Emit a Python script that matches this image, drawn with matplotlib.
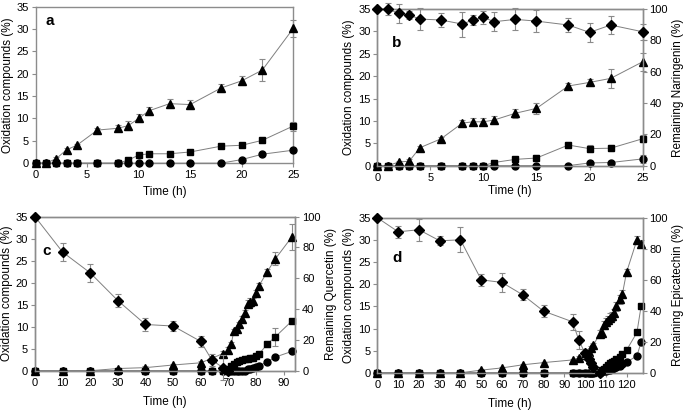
import numpy as np
import matplotlib
matplotlib.use("Agg")
import matplotlib.pyplot as plt

plt.rcParams["font.family"] = ["Liberation Sans", "DejaVu Sans"]

# ---- data ----
times_a = [0, 1, 2, 3, 4, 6, 8, 9, 10, 11, 13, 15, 18, 20, 22, 25]
tri_a = [0, 0, 1.0, 3.0, 4.0, 7.4, 7.8, 8.4, 10.0, 11.7, 13.3, 13.1, 16.8, 18.4, 20.8, 30.1]
tri_a_err = [0, 0, 0.3, 0.3, 0.3, 0.4, 0.7, 1.0, 0.9, 0.9, 1.0, 1.1, 0.9, 1.0, 2.5, 2.0]
sq_a = [0, 0, 0, 0, 0, 0, 0, 0.7, 1.8, 2.1, 2.1, 2.5, 3.8, 4.0, 5.1, 8.3]
sq_a_err = [0, 0, 0, 0, 0, 0, 0, 0.3, 0.5, 0.3, 0.2, 0.2, 0.2, 0.3, 0.6, 1.0]
circ_a = [0, 0, 0, 0, 0, 0, 0, 0, 0, 0, 0, 0, 0, 0.8, 2.0, 2.9]
circ_a_err = [0] * 13 + [0.2, 0.2, 0.3]

times_b = [0, 1, 2, 3, 4, 6, 8, 9, 10, 11, 13, 15, 18, 20, 22, 25]
diam_b = [100, 100, 97.2, 96.2, 93.6, 93.0, 90.4, 93.0, 94.7, 91.9, 93.4, 92.3, 89.8, 85.1, 89.8, 85.5]
diam_b_err = [0, 4, 6, 2.5, 7, 4.5, 8, 3, 4, 6, 7, 7, 4.5, 6, 6, 5]
tri_b = [0, 0, 0.8, 1.0, 4.0, 6.0, 9.5, 9.8, 9.8, 10.2, 11.7, 12.8, 17.8, 18.6, 19.5, 23.2]
tri_b_err = [0, 0, 0.3, 0.4, 0.3, 0.3, 0.7, 0.8, 0.8, 0.8, 1.0, 1.2, 0.6, 0.7, 2.2, 2.0]
sq_b = [0, 0, 0, 0, 0, 0, 0, 0, 0, 0.7, 1.4, 1.7, 4.6, 3.8, 3.9, 6.0]
sq_b_err = [0, 0, 0.3, 0.3, 0, 0, 0, 0, 0, 0.6, 0.6, 0.7, 0.7, 0.7, 0.7, 0.8]
circ_b = [0, 0, 0, 0, 0, 0, 0, 0, 0, 0, 0, 0, 0, 0.6, 0.7, 1.5]
circ_b_err = [0] * 13 + [0.2, 0.2, 0.9]

times_c = [0, 10, 20, 30, 40, 50, 60, 64, 68, 70, 71, 72, 73, 74, 75, 76, 77, 78, 79, 80, 81, 84, 87, 93]
diam_c = [100, 77, 63.5, 45.5, 30, 29, 19, 7, 2, 0] + [np.nan] * 14
diam_c_err = [0, 6, 6, 4, 4, 3, 3.5, 4, 8, 0] + [0] * 14
tri_c = [0, 0, 0, 0.5, 0.7, 1.3, 1.8, 2.8, 3.9, 4.8, 6.0, 9.0, 9.4, 10.5, 11.8, 13.2, 15.2, 15.5,
         15.8, 17.6, 19.2, 22.4, 25.4, 30.4]
tri_c_err = [0, 0, 0, 0.2, 0.3, 0.3, 0.3, 0.5, 0.5, 0.5, 0.5, 0.5, 0.5, 0.6, 0.6, 0.6, 0.8, 1.0,
             0.8, 0.8, 0.8, 0.8, 1.5, 3.0]
sq_c = [0, 0, 0, 0, 0, 0, 0, 0, 0, 0.5, 1.0, 1.5, 1.9, 2.2, 2.4, 2.6, 2.7, 2.9, 3.0, 3.3, 3.7,
        6.0, 7.7, 11.3]
sq_c_err = [0] * 9 + [0.2] * 12 + [0.7, 2.0, 0.5]
circ_c = [0] * 16 + [0.3, 0.5, 0.7, 0.9, 1.1, 2.0, 3.1, 4.4]

times_d = [0, 10, 20, 30, 40, 50, 60, 70, 80, 94, 97, 100, 102, 103, 104, 107, 108, 109, 110,
           111, 112, 113, 114, 115, 117, 118, 120, 125, 127]
diam_d = [100, 91, 92.3, 85.2, 85.8, 60, 58.3, 50.3, 39.8, 32.9, 21.1, 12.5, 9, 6, 4, 0] + [np.nan] * 13
diam_d_err = [0, 4, 7, 3, 8, 4, 6, 3.5, 4, 5, 6, 3, 2, 2, 2, 0] + [0] * 13
tri_d = [0, 0, 0, 0, 0, 0.6, 1.1, 1.8, 2.3, 2.9, 3.4, 4.0, 4.8, 5.5, 6.2, 8.8, 9.0, 10.8, 11.5,
         12.0, 12.4, 12.8, 13.5, 15.0, 16.6, 17.8, 22.7, 30.0, 29.2]
tri_d_err = [0, 0, 0, 0, 0, 0.2, 0.2, 0.2, 0.2, 0.3, 0.3, 0.4, 0.5, 0.5, 0.5, 0.8, 0.8, 0.8, 0.9,
             0.9, 1.0, 1.0, 1.0, 1.0, 1.0, 1.0, 0.8, 0.9, 0.8]
sq_d = [0] * 15 + [0.2, 0.6, 0.9, 1.3, 1.7, 2.1, 2.4, 2.7, 3.1, 3.6, 4.2, 5.1, 9.1, 15.0]
circ_d = [0] * 16 + [0.3, 0.4, 0.5, 0.6, 0.7, 0.9, 1.1, 1.3, 1.6, 1.9, 2.4, 3.8, 6.9]

LINE = "#7f7f7f"
SPINE = "#8c8c8c"


def series(ax, x, y, err, marker, ms):
    if err is not None:
        ax.errorbar(x, y, yerr=err, fmt="none", ecolor="#8a8a8a", elinewidth=0.8,
                    capsize=2.5, capthick=0.8, clip_on=False, zorder=2)
    ax.plot(x, y, "-", color=LINE, lw=0.7, zorder=3, clip_on=False)
    ax.plot(x, y, marker, color="black", ms=ms, mec="black", ls="none", zorder=4, clip_on=False)


def style(ax):
    for s in ax.spines.values():
        s.set_color(SPINE)
        s.set_linewidth(1.0)
    ax.tick_params(direction="out", length=3, width=0.8, color=SPINE, labelsize=8, pad=2)


def panel(rect, label, lab_xy, times, tri, tri_err, sq, sq_err, circ, circ_err,
          xmax, xticks, xpad, diam=None, diam_err=None, rlabel=None):
    ax = fig.add_axes(rect)
    ax.set_xlim(0, xmax)
    ax.set_ylim(0, 35)
    ax.set_yticks(np.arange(0, 36, 5))
    ax.set_xticks(xticks)
    series(ax, times, circ, circ_err, "o", 5)
    series(ax, times, sq, sq_err, "s", 4.8)
    series(ax, times, tri, tri_err, "^", 5.8)
    ax.set_xlabel("Time (h)", fontsize=8.5, labelpad=xpad)
    ax.set_ylabel("Oxidation compounds (%)", fontsize=8.5, labelpad=2)
    style(ax)
    ax.text(lab_xy[0], lab_xy[1], label, transform=ax.transAxes, fontsize=11,
            fontweight="bold", va="center", ha="left")
    if diam is not None:
        ax2 = ax.twinx()
        ax2.set_ylim(0, 100)
        ax2.set_yticks(np.arange(0, 101, 20))
        series(ax2, times, diam, diam_err, "D", 4.8)
        ax2.set_ylabel(rlabel, fontsize=8.5, labelpad=3)
        style(ax2)
    return ax


fig = plt.figure(figsize=(6.85, 4.11), dpi=100)

panel([0.052, 0.603, 0.376, 0.381], "a", (0.04, 0.91), times_a, tri_a, tri_a_err, sq_a, sq_a_err,
      circ_a, circ_a_err, 25, range(0, 26, 5), 4)
panel([0.551, 0.597, 0.387, 0.381], "b", (0.055, 0.78), times_b, tri_b, tri_b_err, sq_b, sq_b_err,
      circ_b, circ_b_err, 25, range(0, 26, 5), 2, diam_b, diam_b_err, "Remaining Naringenin (%)")
panel([0.051, 0.098, 0.380, 0.375], "c", (0.03, 0.78), times_c, tri_c, tri_c_err, sq_c, sq_c_err,
      circ_c, None, 94.2, range(0, 91, 10), 6, diam_c, diam_c_err, "Remaining Quercetin (%)")
panel([0.551, 0.093, 0.387, 0.377], "d", (0.055, 0.74), times_d, tri_d, tri_d_err, sq_d, None,
      circ_d, None, 127.7, range(0, 121, 10), 6, diam_d, diam_d_err, "Remaining Epicatechin (%)")

plt.savefig("out.png", dpi=100)
